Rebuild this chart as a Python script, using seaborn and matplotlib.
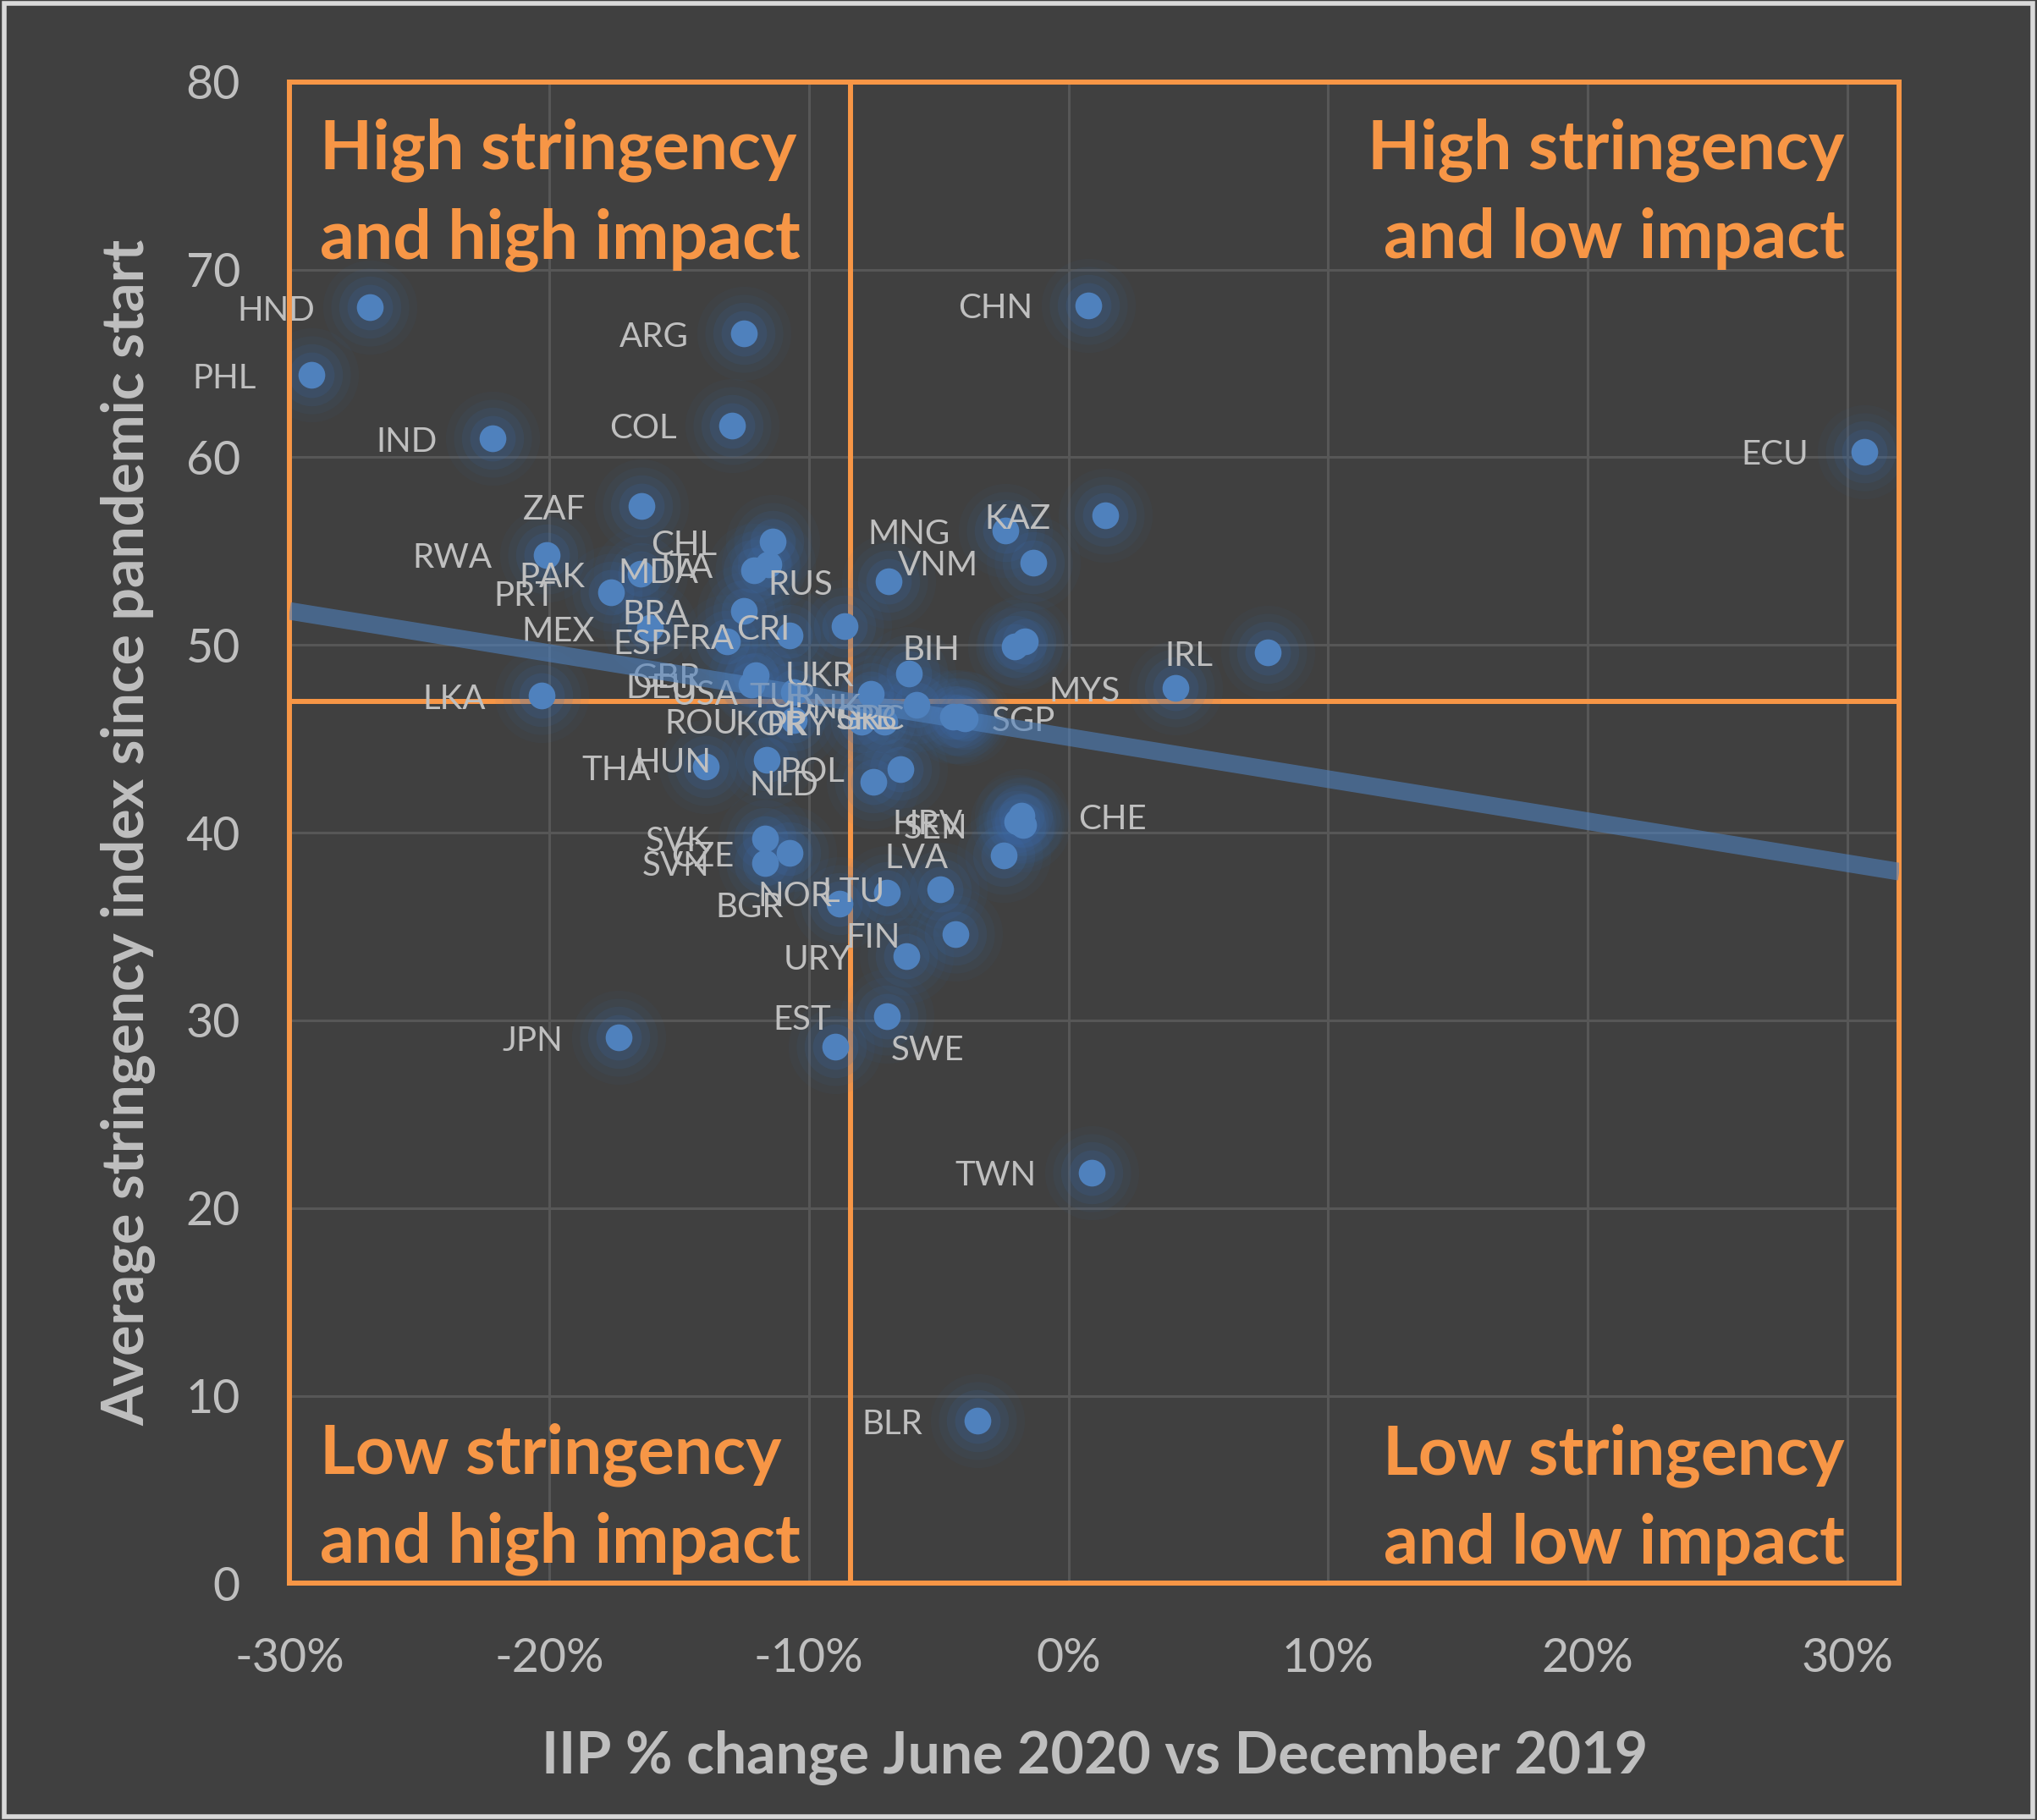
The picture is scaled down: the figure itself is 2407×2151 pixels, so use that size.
import matplotlib
matplotlib.use("Agg")
import matplotlib.pyplot as plt
import seaborn as sns
import pandas as pd
from matplotlib.ticker import FuncFormatter, MultipleLocator
from matplotlib.patches import Rectangle

# data
countries = ["HND", "PHL", "IND", "ARG", "COL", "CHN", "ECU", "ZAF", "RWA", "PAK",
             "PRT", "MDA", "ITA", "CHL", "BRA", "MEX", "ESP", "FRA", "CRI", "RUS",
             "MNG", "VNM", "KAZ", "BIH", "ISR", "IRL", "MYS", "LKA", "GBR", "DEU",
             "USA", "TUR", "UKR", "DNK", "SRB", "GRC", "SGP", "ROU", "KOR", "PRY",
             "THA", "HUN", "POL", "NLD", "SVK", "SVN", "CZE", "HRV", "SEN", "CHE",
             "LVA", "NOR", "LTU", "BGR", "FIN", "URY", "EST", "SWE", "JPN", "TWN",
             "BLR"]
iip_change = [-0.269, -0.2915, -0.222, -0.125, -0.1295, 0.0075, 0.3065, -0.1646, -0.2009, -0.1648,
              -0.1762, -0.1211, -0.1157, -0.1141, -0.1249, -0.1613, -0.1315, -0.1076, -0.0862, -0.0693,
              -0.0242, -0.0134, 0.0143, -0.0207, -0.0169, 0.0768, 0.0413, -0.2031, -0.1206, -0.1220,
              -0.1059, -0.0761, -0.0614, -0.0587, -0.0446, -0.0419, -0.0400, -0.1059, -0.0798, -0.0710,
              -0.1396, -0.1163, -0.0649, -0.0752, -0.1170, -0.1170, -0.1076, -0.0196, -0.0175, -0.0180,
              -0.0250, -0.0698, -0.0495, -0.0883, -0.0437, -0.0623, -0.0701, -0.0900, -0.1733, 0.0090,
              -0.0350]
stringency = [68.0, 64.4, 61.0, 66.6, 61.7, 68.1, 60.3, 57.4, 54.8, 53.8,
              52.8, 54.0, 54.3, 55.5, 51.8, 50.9, 50.2, 50.5, 51.0, 53.4,
              56.1, 54.4, 56.9, 49.9, 50.2, 49.6, 47.7, 47.3, 48.4, 47.9,
              47.5, 47.4, 48.5, 46.8, 46.2, 46.2, 46.1, 46.0, 45.9, 45.9,
              43.5, 43.9, 43.4, 42.7, 39.7, 38.4, 38.9, 40.6, 40.4, 40.9,
              38.8, 36.8, 37.0, 36.2, 34.6, 33.4, 30.2, 28.6, 29.1, 21.9,
              8.65]

# quadrant split lines
x_split = -0.084
y_split = 47.0

quadrant_texts = ["High stringency\nand high impact", "High stringency\nand low impact",
                  "Low stringency\nand high impact", "Low stringency\nand low impact"]

# label offsets in points; default is to the left of the marker
label_offsets = {"SWE": (48, -3), "CHE": (48, -3), "SGP": (23, -3)}
default_offset = (-47, -3)
hidden_labels = ["ISR"]

df = pd.DataFrame({"country": countries, "iip": iip_change, "stringency": stringency})

bg = "#404040"
orange = "#F79646"
blue = "#4F81BD"
txt = "#BFBFBF"
grid_c = "#575757"

sns.set_theme(style="dark")
plt.rcParams['font.family'] = ['Lato', 'DejaVu Sans']

fig = plt.figure(figsize=(24.07, 21.51), dpi=100, facecolor=bg)
ax = fig.add_axes([0.1422, 0.130, 0.7902, 0.825])
ax.set_facecolor(bg)

ax.set_xlim(-0.30, 0.32)
ax.set_ylim(0, 80)
ax.xaxis.set_major_locator(MultipleLocator(0.10))
ax.yaxis.set_major_locator(MultipleLocator(10))
ax.xaxis.set_major_formatter(FuncFormatter(lambda v, p: f"{v * 100:.0f}%"))
ax.grid(True, color=grid_c, linewidth=2.2, zorder=0)
ax.set_axisbelow(True)
ax.tick_params(axis="both", length=0, colors=txt, labelsize=40)
ax.tick_params(axis="y", pad=42)
ax.tick_params(axis="x", pad=46)
for s in ax.spines.values():
    s.set_color(orange)
    s.set_linewidth(4.3)
    s.set_zorder(3)

ax.axvline(x_split, color=orange, linewidth=4.3, zorder=2)
ax.axhline(y_split, color=orange, linewidth=4.3, zorder=2)

# glow around markers
for size, a in [(6400, 0.05), (4400, 0.07), (2800, 0.11), (1500, 0.16)]:
    sns.scatterplot(data=df, x="iip", y="stringency", s=size, color="#3a6eb2",
                    alpha=a, linewidth=0, ax=ax, zorder=3, legend=False)
sns.scatterplot(data=df, x="iip", y="stringency", s=520, color=blue,
                linewidth=0, ax=ax, zorder=4, legend=False)

for _, r in df.iterrows():
    name = r["country"]
    if name in hidden_labels:
        continue
    off = label_offsets.get(name, default_offset)
    ha = "left" if off[0] > 0 else "right"
    ax.annotate(name, (r["iip"], r["stringency"]), xytext=off,
                textcoords="offset points", ha=ha, va="center",
                fontsize=29, color=txt, zorder=5)

# linear trend line
sns.regplot(data=df, x="iip", y="stringency", scatter=False, ci=None, truncate=False,
            ax=ax, line_kws={"color": blue, "alpha": 0.6, "linewidth": 15, "zorder": 6,
                             "solid_capstyle": "butt"})
ax.set_xlim(-0.30, 0.32)

qkw = dict(transform=ax.transAxes, color=orange, fontsize=58, fontweight="bold",
           linespacing=1.5, zorder=7)
ax.text(0.0186, 0.976, quadrant_texts[0], ha="left", va="top", **qkw)
ax.text(0.966, 0.976, quadrant_texts[1], ha="right", va="top", **qkw)
ax.text(0.0186, 0.005, quadrant_texts[2], ha="left", va="bottom", **qkw)
ax.text(0.966, 0.005, quadrant_texts[3], ha="right", va="bottom", **qkw)

ax.set_xlabel("IIP % change June 2020 vs December 2019", fontsize=49,
              fontweight="bold", color=txt)
ax.set_ylabel("Average stringency index since pandemic start", fontsize=49,
              fontweight="bold", color=txt)
ax.xaxis.set_label_coords(0.5, -0.098)
ax.yaxis.set_label_coords(-0.083, 0.5)

fig.patches.append(Rectangle((0.002, 0.002), 0.996, 0.996, transform=fig.transFigure,
                             fill=False, edgecolor="#D9D9D9", linewidth=4))

fig.savefig("out.png", dpi=100, facecolor=bg)
